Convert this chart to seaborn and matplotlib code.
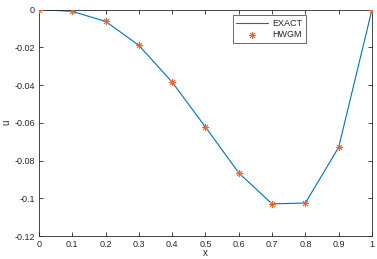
import numpy as np
import pandas as pd
import matplotlib
matplotlib.use("Agg")
import matplotlib.pyplot as plt
import seaborn as sns

# Data
x = [0, 0.1, 0.2, 0.3, 0.4, 0.5, 0.6, 0.7, 0.8, 0.9, 1.0]
u_exact = [0, -0.0010, -0.0063, -0.0190, -0.0385, -0.0623, -0.0866, -0.1030, -0.1025, -0.0730, 0]
u_hwgm = [0, -0.0010, -0.0063, -0.0190, -0.0385, -0.0623, -0.0866, -0.1030, -0.1025, -0.0730, 0]

xticks = [0, 0.1, 0.2, 0.3, 0.4, 0.5, 0.6, 0.7, 0.8, 0.9, 1]
xticklabels = ["0", "0.1", "0.2", "0.3", "0.4", "0.5", "0.6", "0.7", "0.8", "0.9", "1"]
yticks = [-0.12, -0.1, -0.08, -0.06, -0.04, -0.02, 0]
yticklabels = ["-0.12", "-0.1", "-0.08", "-0.06", "-0.04", "-0.02", "0"]

df = pd.DataFrame({"x": x, "exact": u_exact, "hwgm": u_hwgm})

sns.set_style("ticks")
plt.rcParams['font.family'] = ['Liberation Sans', 'DejaVu Sans']

fig = plt.figure(figsize=(3.77, 2.59), dpi=100)
ax = fig.add_axes([0.1034, 0.0888, 0.8833, 0.8745])

sns.lineplot(data=df, x="x", y="exact", ax=ax, color="#0072BD", linewidth=0.8, label="EXACT")
sns.scatterplot(data=df, x="x", y="hwgm", ax=ax, marker=(8, 2, 0), color="#E06A35",
                s=22, linewidth=0.6, label="HWGM", zorder=3)

ax.set_xlim(0, 1)
ax.set_ylim(-0.12, 0)
ax.set_xticks(xticks)
ax.set_xticklabels(xticklabels)
ax.set_yticks(yticks)
ax.set_yticklabels(yticklabels)
ax.tick_params(direction="in", length=3, width=0.6, labelsize=6.5, colors="#262626",
               top=True, right=True, pad=3)
for s in ax.spines.values():
    s.set_visible(True)
    s.set_linewidth(0.6)
    s.set_color("#262626")
ax.set_xlabel("x", fontsize=7)
ax.set_ylabel("u", fontsize=7)
ax.xaxis.set_label_coords(0.5, -0.052)
ax.yaxis.set_label_coords(-0.082, 0.5)

leg = ax.legend(loc="upper right", bbox_to_anchor=(0.815, 0.995), fontsize=6.5,
                frameon=True, fancybox=False, edgecolor="#262626", handlelength=3.5,
                borderpad=0.4, labelspacing=0.25, handletextpad=0.5)
leg.get_frame().set_linewidth(0.6)

fig.savefig("out.png", dpi=100)
